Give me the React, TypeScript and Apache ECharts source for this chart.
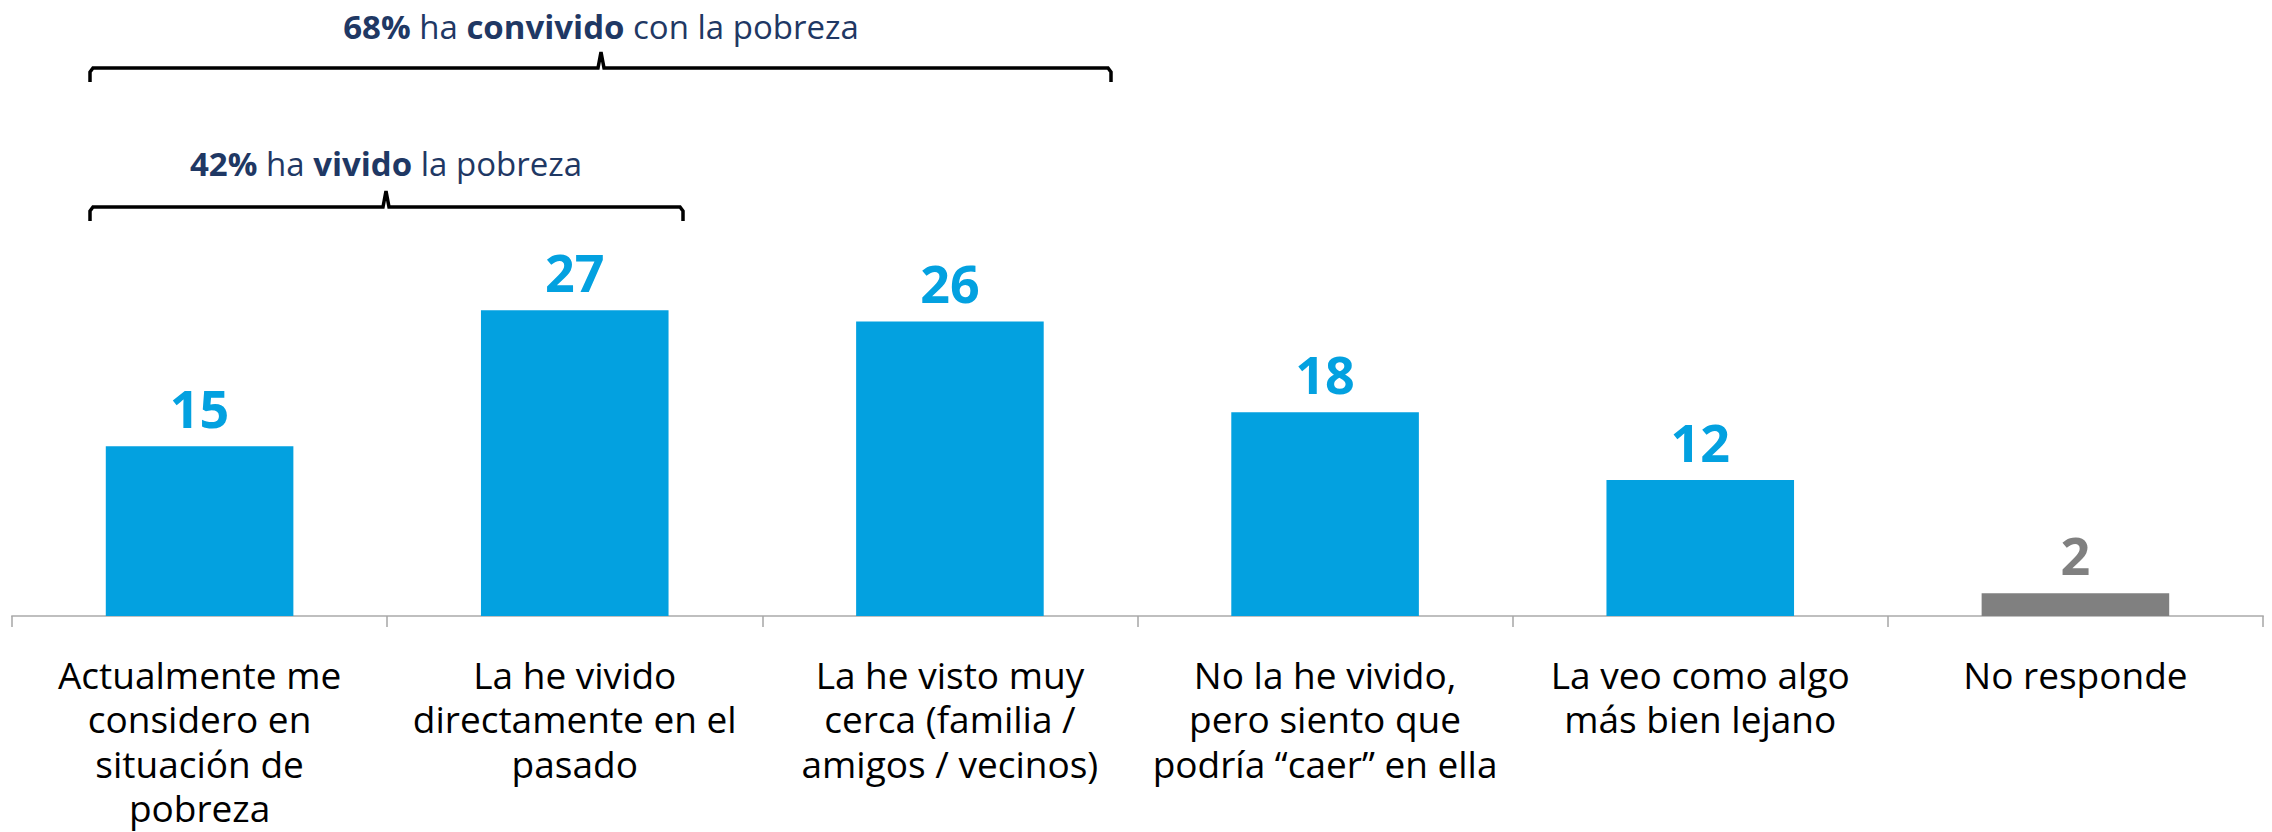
import React, { useEffect, useRef } from "react";
import * as echarts from "echarts";

const categories = [
  "Actualmente me\nconsidero en\nsituación de\npobreza",
  "La he vivido\ndirectamente en el\npasado",
  "La he visto muy\ncerca (familia /\namigos / vecinos)",
  "No la he vivido,\npero siento que\npodría “caer” en ella",
  "La veo como algo\nmás bien lejano",
  "No responde",
];
const values = [15, 27, 26, 18, 12, 2];
const barColors = ["#03A1E0", "#03A1E0", "#03A1E0", "#03A1E0", "#03A1E0", "#808080"];

const NAVY = "#1F3864";

export default function App() {
  const ref = useRef<HTMLDivElement>(null);
  useEffect(() => {
    document.body.style.margin = "0";
    const chart = echarts.init(ref.current!, null, { renderer: "svg" });
    const data = values.map((v, i) => ({
      value: v,
      itemStyle: { color: barColors[i] },
      label: { color: barColors[i] },
    }));
    const bracket = (x1: number, x2: number, xm: number, y: number) => ({
      type: "polyline",
      shape: {
        points: [
          [x1, y + 14],
          [x1, y + 4],
          [x1 + 3, y],
          [xm - 3, y],
          [xm, y - 16],
          [xm + 3, y],
          [x2 - 3, y],
          [x2, y + 4],
          [x2, y + 14],
        ],
      },
      style: { stroke: "#000", lineWidth: 3.5, fill: null },
    });
    const rich = {
      b: { fontFamily: "Open Sans", fontWeight: 700, fontSize: 33, fill: NAVY, color: NAVY },
      n: { fontFamily: "Open Sans", fontWeight: 400, fontSize: 33, fill: NAVY, color: NAVY },
    };
    chart.setOption({
      animation: false,
      grid: { left: 12, right: 9, top: 163, bottom: 216, containLabel: false },
      xAxis: {
        type: "category",
        data: categories,
        axisLine: { lineStyle: { color: "#BFBFBF", width: 2 } },
        axisTick: { show: true, length: 11, lineStyle: { color: "#A6A6A6", width: 1.5 } },
        axisLabel: {
          interval: 0,
          color: "#000",
          fontFamily: "Open Sans",
          fontSize: 37,
          lineHeight: 44.5,
          margin: 36,
        },
      },
      yAxis: { type: "value", min: 0, max: 40, show: false, splitLine: { show: false } },
      series: [
        {
          type: "bar",
          data,
          barWidth: "50%",
          label: {
            show: true,
            position: "top",
            distance: 13,
            fontFamily: "Open Sans",
            fontWeight: 700,
            fontSize: 52,
            lineHeight: 52,
          },
        },
      ],
      graphic: [
        bracket(90, 1111, 601, 68),
        bracket(90, 683, 386, 207),
        {
          type: "text",
          x: 601,
          y: 26,
          style: {
            text: "{b|68%}{n| ha }{b|convivido}{n| con la pobreza}",
            rich,
            align: "center",
            verticalAlign: "middle",
          },
        },
        {
          type: "text",
          x: 386,
          y: 163,
          style: {
            text: "{b|42%}{n| ha }{b|vivido}{n| la pobreza}",
            rich,
            align: "center",
            verticalAlign: "middle",
          },
        },
      ],
    });
    return () => chart.dispose();
  }, []);
  return <div ref={ref} style={{ width: 2272, height: 832 }} />;
}
